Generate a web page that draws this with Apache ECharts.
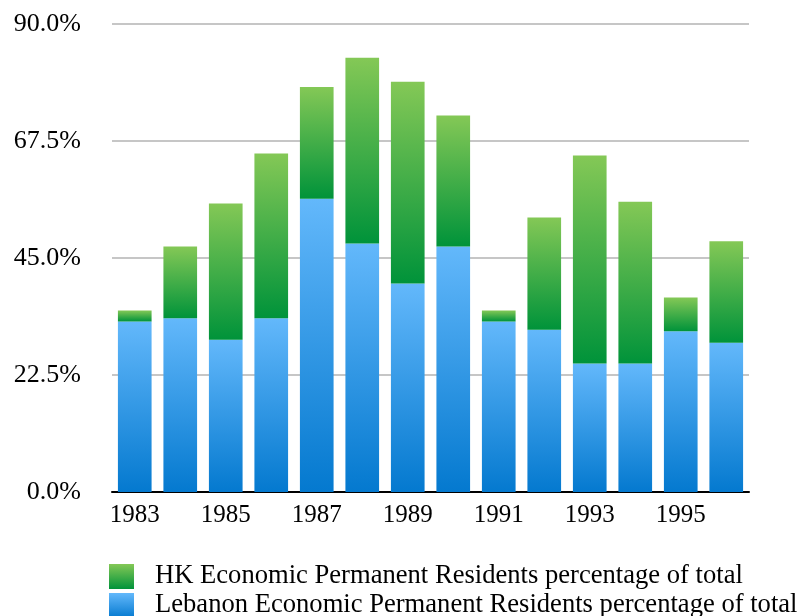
<!DOCTYPE html>
<html>
<head>
<meta charset="utf-8">
<script src="https://cdn.jsdelivr.net/npm/echarts@6/dist/echarts.min.js"></script>
<style>
  html, body { margin: 0; padding: 0; background: #fff; }
  #chart { width: 799px; height: 616px; }
</style>
</head>
<body>
<div id="chart"></div>
<script>
// data
var years = ['1983', '1984', '1985', '1986', '1987', '1988', '1989',
             '1990', '1991', '1992', '1993', '1994', '1995', '1996'];
var lebanon = [32.8, 33.4, 29.3, 33.4, 56.4, 47.8, 40.1, 47.2, 32.8, 31.2, 24.7, 24.7, 30.9, 28.7];
var hk = [2.1, 13.8, 26.2, 31.7, 21.5, 35.7, 38.8, 25.2, 2.1, 21.6, 40.0, 31.1, 6.5, 19.5];
var yTicks = [0, 22.5, 45, 67.5, 90];

var serif = '"Liberation Serif", "Times New Roman", serif';

function grad(top, bottom) {
  return new echarts.graphic.LinearGradient(0, 0, 0, 1, [
    { offset: 0, color: top },
    { offset: 1, color: bottom }
  ]);
}

var myChart = echarts.init(document.getElementById('chart'));

myChart.setOption({
  animation: false,
  grid: { left: 112, right: 50, top: 24, bottom: 124 },
  legend: {
    orient: 'vertical',
    left: 109,
    top: 563,
    height: 60,
    padding: 0,
    itemWidth: 25,
    itemHeight: 25,
    itemGap: 2,
    icon: 'rect',
    textStyle: { fontFamily: serif, fontSize: 26.6, color: '#000', padding: [0, 0, 0, 16] },
    data: ['HK Economic Permanent Residents percentage of total',
           'Lebanon Economic Permanent Residents percentage of total']
  },
  xAxis: {
    type: 'category',
    data: years,
    axisTick: { show: false },
    axisLine: { lineStyle: { color: '#000', width: 2 } },
    axisLabel: {
      interval: 1,
      fontFamily: serif,
      fontSize: 25,
      color: '#000',
      margin: 11
    }
  },
  yAxis: {
    type: 'value',
    min: yTicks[0],
    max: yTicks[yTicks.length - 1],
    interval: 22.5,
    axisLine: { show: false },
    axisTick: { show: false },
    splitLine: { lineStyle: { color: '#c6c6c6', width: 2 } },
    axisLabel: {
      fontFamily: serif,
      fontSize: 26,
      color: '#000',
      margin: 31,
      formatter: function (v) { return v.toFixed(1) + '%'; }
    }
  },
  series: [
    {
      name: 'Lebanon Economic Permanent Residents percentage of total',
      type: 'bar',
      stack: 'total',
      barWidth: '74%',
      data: lebanon,
      itemStyle: { color: grad('#63b8fb', '#0479cf') }
    },
    {
      name: 'HK Economic Permanent Residents percentage of total',
      type: 'bar',
      stack: 'total',
      barWidth: '74%',
      data: hk,
      itemStyle: { color: grad('#84c856', '#00933a') }
    }
  ]
});
</script>
</body>
</html>
